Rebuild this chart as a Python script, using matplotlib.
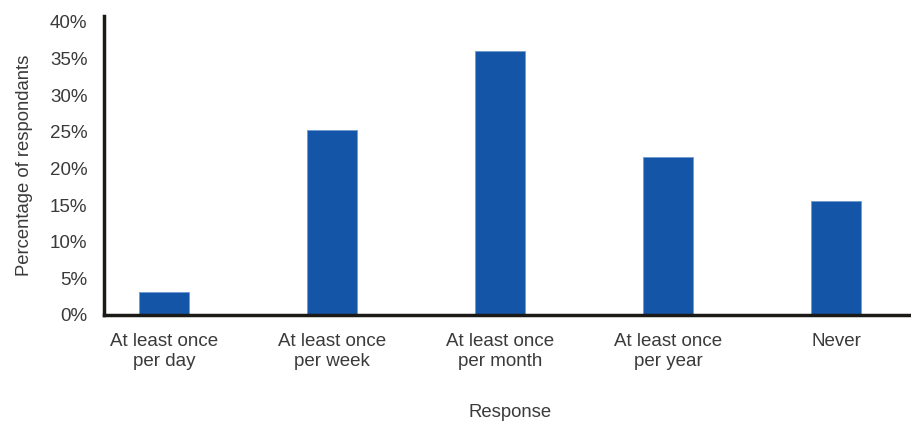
import matplotlib.pyplot as plt

categories = ["At least once\nper day", "At least once\nper week", "At least once\nper month",
              "At least once\nper year", "Never"]
values = [3.2, 25.2, 36.0, 21.6, 15.5]
yticks = [0, 5, 10, 15, 20, 25, 30, 35, 40]

plt.rcParams['font.family'] = ['Liberation Sans', 'DejaVu Sans']
text_color = "#3a3a3a"

fig = plt.figure(figsize=(9.11, 4.21), dpi=100)
ax = fig.add_axes([0.1142, 0.2518, 0.8858, 0.7102])

x = range(len(categories))
ax.bar(x, values, width=0.3, color="#1455a8", edgecolor="#6f9bd1", linewidth=0.6)

ax.set_xlim(-0.357, 4.446)
ax.set_ylim(0, 40.8)
ax.set_yticks(yticks)
ax.set_yticklabels([f"{t}%" for t in yticks])
ax.set_xticks(list(x))
ax.set_xticklabels(categories, linespacing=1.25)

ax.tick_params(axis="both", length=0, labelsize=13.5, labelcolor=text_color)
ax.tick_params(axis="x", pad=13)
ax.tick_params(axis="y", pad=12)

for side in ["top", "right"]:
    ax.spines[side].set_visible(False)
for side in ["left", "bottom"]:
    ax.spines[side].set_linewidth(2.5)
    ax.spines[side].set_color("#1c1a16")

ax.set_ylabel("Percentage of respondants", fontsize=13.3, color=text_color, labelpad=12)
fig.text(0.56, 0.0, "Response", fontsize=13.3, color=text_color, ha="center", va="bottom")

plt.savefig("out.png", dpi=100)
